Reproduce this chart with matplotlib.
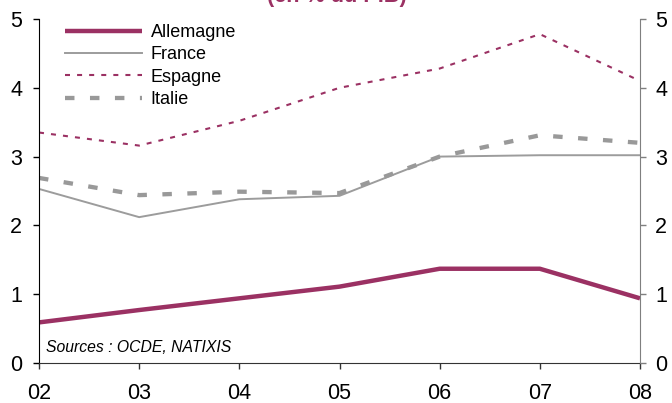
import matplotlib
matplotlib.use("Agg")
import matplotlib.pyplot as plt

plt.rcParams['font.family'] = ['Liberation Sans', 'DejaVu Sans']

years = ['02', '03', '04', '05', '06', '07', '08']
allemagne = [0.59, 0.77, 0.94, 1.11, 1.37, 1.37, 0.94]
france = [2.53, 2.12, 2.38, 2.43, 3.00, 3.02, 3.02]
espagne = [3.35, 3.16, 3.52, 4.00, 4.28, 4.78, 4.10]
italie = [2.69, 2.44, 2.49, 2.47, 3.00, 3.31, 3.20]
y_ticks = [0, 1, 2, 3, 4, 5]

magenta = '#9B3163'
grey = '#9C9C9C'

fig = plt.figure(figsize=(6.72, 4.03), dpi=100)
ax = fig.add_axes([39 / 672, 1 - 363 / 403, 601 / 672, 344 / 403])

x = list(range(len(years)))
ax.plot(x, allemagne, color=magenta, lw=3.2, label='Allemagne', solid_capstyle='butt')
ax.plot(x, france, color=grey, lw=1.4, label='France')
ax.plot(x, espagne, color=magenta, lw=1.5, linestyle=(0, (2.4, 3.4)), label='Espagne')
ax.plot(x, italie, color='#999999', lw=3.1, linestyle=(0, (2.2, 3.6)), label='Italie')

ax.set_xlim(0, len(years) - 1)
ax.set_ylim(0, 5)
ax.set_xticks(x)
ax.set_xticklabels(years)
ax.set_yticks(y_ticks)

for side in ('top', 'right'):
    ax.spines[side].set_visible(False)
ax.spines['left'].set_color('black')
ax.spines['bottom'].set_color('#333333')
ax.tick_params(axis='y', direction='out', length=4, width=1, pad=8, labelsize=15.5)
ax.tick_params(axis='x', direction='out', length=4, width=1, color='#333333', pad=10.5, labelsize=15.5)

ax2 = ax.twinx()
ax2.set_ylim(0, 5)
ax2.set_yticks(y_ticks)
for side in ('top', 'left', 'bottom'):
    ax2.spines[side].set_visible(False)
ax2.spines['right'].set_color('#7F7F7F')
ax2.tick_params(axis='y', direction='out', length=4, width=1, color='#7F7F7F', pad=7, labelsize=15.5)

ax.legend(loc='upper left', bbox_to_anchor=(0.043, 0.985), frameon=False,
          fontsize=13, handlelength=4.3, handletextpad=0.45, labelspacing=0.29,
          borderpad=0, borderaxespad=0)

ax.text(0.012, 0.033, 'Sources : OCDE, NATIXIS', transform=ax.transAxes,
        fontsize=11.3, style='italic', color='black', va='baseline', ha='left')

fig.text(337 / 672, 1 - 2 / 403, '(en % du PIB)', color=magenta, fontsize=15.6,
         fontweight='bold', ha='center', va='baseline')

fig.savefig('out.png', dpi=100)
